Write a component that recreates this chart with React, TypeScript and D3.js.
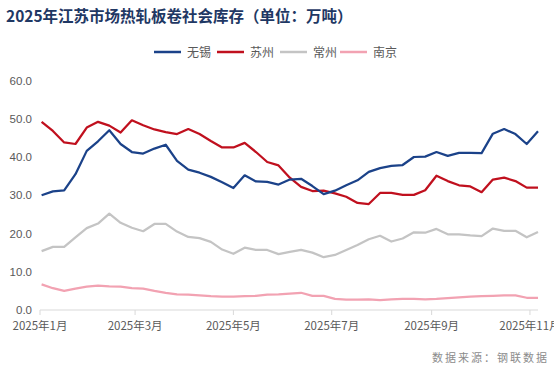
import React from "react";
import * as d3 from "d3";

// weekly Thursday readings, 2025-01-02 .. 2025-11-06
const startDate = new Date(2025, 0, 2);
const weekCount = 45;

const wuxi = [
  30.0, 31.0, 31.3, 35.5, 41.6, 44.1, 47.0, 43.4, 41.3, 40.9, 42.2, 43.2,
  39.0, 36.7, 35.9, 34.8, 33.4, 31.9, 35.2, 33.6, 33.5, 32.8, 34.1, 34.3,
  32.4, 30.3, 31.2, 32.6, 33.9, 36.1, 37.1, 37.7, 37.9, 40.0, 40.1, 41.3,
  40.3, 41.1, 41.1, 41.0, 46.1, 47.3, 46.0, 43.4, 46.7
];
const suzhou = [
  49.2, 46.8, 43.8, 43.4, 47.7, 49.2, 48.2, 46.4, 49.6, 48.3, 47.2, 46.5,
  46.0, 47.3, 46.0, 44.2, 42.5, 42.5, 43.7, 41.3, 38.7, 37.8, 34.6, 32.2,
  31.1, 31.2, 30.5, 29.6, 28.0, 27.7, 30.6, 30.6, 30.1, 30.1, 31.3, 35.1,
  33.7, 32.6, 32.3, 30.8, 34.1, 34.6, 33.7, 32.0, 32.0
];
const changzhou = [
  15.4, 16.5, 16.5, 19.0, 21.4, 22.6, 25.2, 22.8, 21.5, 20.6, 22.5, 22.5,
  20.5, 19.1, 18.8, 17.8, 15.8, 14.7, 16.3, 15.7, 15.7, 14.6, 15.2, 15.7,
  15.0, 13.8, 14.4, 15.7, 17.0, 18.5, 19.4, 17.9, 18.7, 20.3, 20.2, 21.2,
  19.8, 19.8, 19.5, 19.3, 21.3, 20.7, 20.7, 19.0, 20.4
];
const nanjing = [
  6.7, 5.7, 5.0, 5.6, 6.1, 6.4, 6.2, 6.1, 5.7, 5.6, 5.0, 4.5,
  4.1, 4.0, 3.8, 3.6, 3.5, 3.5, 3.6, 3.7, 4.0, 4.1, 4.3, 4.5,
  3.7, 3.7, 2.9, 2.7, 2.7, 2.8, 2.6, 2.8, 2.9, 2.9, 2.8, 2.9,
  3.1, 3.3, 3.5, 3.6, 3.7, 3.8, 3.8, 3.2, 3.2
];

const seriesNames = ["无锡", "苏州", "常州", "南京"];
const seriesColors = ["#1b4289", "#c0101e", "#c4c4c4", "#f2a2b2"];
const yTicks = [0, 10, 20, 30, 40, 50, 60];
const xTickMonths = [0, 2, 4, 6, 8, 10];

const W = 554;
const H = 371;

export default function App() {
  const dates = d3.range(weekCount).map((i) => d3.timeDay.offset(startDate, i * 7));
  const allSeries = [wuxi, suzhou, changzhou, nanjing];

  const x = d3
    .scaleTime()
    .domain([new Date(2025, 0, 1), new Date(2025, 10, 6)])
    .range([40, 538]);
  const y = d3.scaleLinear().domain([0, 60]).range([310, 80.5]);

  const line = d3
    .line<number>()
    .x((_, i) => x(dates[i]))
    .y((d) => y(d));

  const xTicks = xTickMonths.map((m) => new Date(2025, m, 1));
  const fmt = d3.timeFormat("%Y");

  const legendX = [154, 217, 280, 340];

  return (
    <div style={{ position: "fixed", left: 0, top: 0 }}>
      <svg width={W} height={H} style={{ display: "block", background: "#fff" }}>
        <text
          x={6}
          y={22}
          fontSize={15.5}
          fontWeight="bold"
          fill="#1f3864"
          fontFamily="'Noto Sans CJK SC', sans-serif"
        >
          2025年江苏市场热轧板卷社会库存（单位：万吨）
        </text>

        {/* legend */}
        {seriesNames.map((name, i) => (
          <g key={name} transform={`translate(${legendX[i]},52)`}>
            <line x1={0} x2={27} y1={0} y2={0} stroke={seriesColors[i]} strokeWidth={2.5} />
            <text
              x={33}
              y={4.5}
              fontSize={12}
              fill="#595959"
              fontFamily="'Noto Sans CJK SC', sans-serif"
            >
              {name}
            </text>
          </g>
        ))}

        {/* y axis labels */}
        {yTicks.map((t) => (
          <text
            key={t}
            x={32}
            y={y(t) + 4}
            textAnchor="end"
            fontSize={11.5}
            fill="#595959"
            fontFamily="'Liberation Sans', Arial, sans-serif"
          >
            {t.toFixed(1)}
          </text>
        ))}

        {/* x axis */}
        <line x1={40} x2={538} y1={310} y2={310} stroke="#d9d9d9" strokeWidth={1} />
        {xTicks.map((d) => (
          <g key={d.getTime()}>
            <line x1={x(d)} x2={x(d)} y1={310} y2={315} stroke="#d9d9d9" />
            <text
              x={x(d)}
              y={330}
              textAnchor="middle"
              fontSize={11.5}
              fill="#595959"
              fontFamily="'Noto Sans CJK SC', sans-serif"
            >
              {`${fmt(d)}年${d.getMonth() + 1}月`}
            </text>
          </g>
        ))}

        {/* lines, back to front */}
        {[3, 2, 1, 0].map((i) => (
          <path
            key={seriesNames[i]}
            d={line(allSeries[i]) || ""}
            fill="none"
            stroke={seriesColors[i]}
            strokeWidth={2.25}
            strokeLinejoin="round"
          />
        ))}

        <text
          x={549}
          y={362}
          textAnchor="end"
          fontSize={11}
          letterSpacing={2}
          fill="#8c8c8c"
          fontFamily="'Noto Sans CJK SC', sans-serif"
        >
          数据来源：钢联数据
        </text>
      </svg>
    </div>
  );
}
